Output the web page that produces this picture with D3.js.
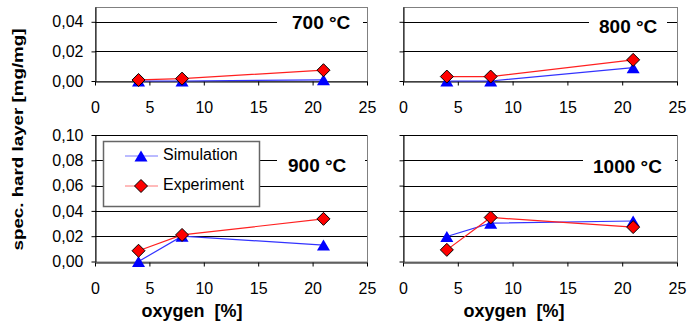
<!DOCTYPE html>
<html>
<head>
<meta charset="utf-8">
<script src="https://cdn.jsdelivr.net/npm/d3@7"></script>
<style>
  body { margin: 0; background: #fff; }
  text { font-family: "Liberation Sans", Arial, sans-serif; }
</style>
</head>
<body>
<div id="chart"></div>
<script>
// oxygen content [%] measured at each temperature
const oxygen = [4, 8, 21];
const xTicks = [0, 5, 10, 15, 20, 25];
const temperatures = ["700 °C", "800 °C", "900 °C", "1000 °C"];

// spec. hard layer [mg/mg]
const sim700 = [0, 0, 0.0008];
const exp700 = [0.0007, 0.0016, 0.0073];
const sim800 = [0, 0, 0.009];
const exp800 = [0.003, 0.003, 0.0143];
const sim900 = [0, 0.02, 0.013];
const exp900 = [0.0085, 0.021, 0.0337];
const sim1000 = [0.0198, 0.0303, 0.032];
const exp1000 = [0.0092, 0.0348, 0.0272];

const yTicksTop = [0, 0.02, 0.04];
const yTicksBottom = [0, 0.02, 0.04, 0.06, 0.08, 0.10];
const seriesNames = ["Simulation", "Experiment"];

const width = 687;
const height = 327;

const svg = d3.create("svg")
    .attr("width", width)
    .attr("height", height);

const comma = d3.formatLocale({ decimal: ",", thousands: ".", grouping: [3], currency: ["", ""] }).format(".2f");

const panels = [
    { name: temperatures[0], sim: sim700, exp: exp700, x0: 95, x1: 367, y0: 81, y1: 7, yMax: 0.05, ticks: yTicksTop, labels: true, tx: 292, ty: 24, gap: [277, 363] },
    { name: temperatures[1], sim: sim800, exp: exp800, x0: 403, x1: 677, y0: 81, y1: 7, yMax: 0.05, ticks: yTicksTop, labels: false, tx: 599, ty: 28, gap: [589, 667] },
    { name: temperatures[2], sim: sim900, exp: exp900, x0: 95, x1: 367, y0: 261.5, y1: 135, yMax: 0.10, ticks: yTicksBottom, labels: true, tx: 288, ty: 167, gap: [277, 365] },
    { name: temperatures[3], sim: sim1000, exp: exp1000, x0: 403, x1: 677, y0: 261.5, y1: 135, yMax: 0.10, ticks: yTicksBottom, labels: false, tx: 593, ty: 168, gap: [583, 675] }
];

/*
Marker shapes.
*/
const triangle = "M0,-5.5L6.5,5.5L-6.5,5.5Z";
const diamond = "M0,-6.5L6.5,0L0,6.5L-6.5,0Z";

panels.forEach(drawPanel);

// Axis titles.
svg.append("text")
    .attr("transform", "translate(19,139.5) rotate(-90)")
    .attr("text-anchor", "middle")
    .attr("dominant-baseline", "middle")
    .attr("font-size", 15)
    .attr("font-weight", "bold")
    .attr("textLength", 222)
    .attr("lengthAdjust", "spacingAndGlyphs")
    .text("spec. hard layer [mg/mg]");

[192, 514].forEach(cx => {
    svg.append("text")
        .attr("x", cx)
        .attr("y", 317)
        .attr("text-anchor", "middle")
        .attr("font-size", 18)
        .attr("font-weight", "bold")
        .attr("xml:space", "preserve")
        .style("white-space", "pre")
        .text("oxygen  [%]");
});

drawLegend();

document.getElementById("chart").appendChild(svg.node());


/*
One small chart for one temperature.
*/
function drawPanel(p) {
    const x = d3.scaleLinear().domain([0, 25]).range([p.x0, p.x1]);
    const y = d3.scaleLinear().domain([0, p.yMax]).range([p.y0, p.y1]);
    const g = svg.append("g");

    // plot area border
    g.append("rect")
        .attr("x", p.x0 + 0.5)
        .attr("y", Math.round(p.y1) + 0.5)
        .attr("width", p.x1 - p.x0)
        .attr("height", p.y0 - p.y1)
        .attr("fill", "none")
        .attr("stroke", "#808080");

    // gridlines
    g.append("g")
        .selectAll("line")
        .data(p.ticks.filter(d => d > 0))
        .join("line")
            .attr("x1", p.x0)
            .attr("x2", p.x1)
            .attr("y1", d => Math.round(y(d)) + 0.5)
            .attr("y2", d => Math.round(y(d)) + 0.5)
            .attr("stroke", "#000");

    // white box behind the temperature label
    g.append("rect")
        .attr("x", p.gap[0])
        .attr("y", p.ty - 12)
        .attr("width", p.gap[1] - p.gap[0])
        .attr("height", 24)
        .attr("fill", "#fff");

    g.append("text")
        .attr("x", p.tx)
        .attr("y", p.ty)
        .attr("dominant-baseline", "middle")
        .attr("font-size", 19)
        .attr("font-weight", "bold")
        .text(p.name);

    // y axis
    const yAxis = d3.axisLeft(y)
        .tickValues(p.ticks)
        .tickSize(4)
        .tickSizeOuter(0)
        .tickPadding(8)
        .tickFormat(p.labels ? comma : "");
    g.append("g")
        .attr("transform", `translate(${Math.round(p.x0) + 0.5},0)`)
        .call(yAxis)
        .call(a => a.selectAll("text").attr("font-size", 16).attr("fill", "#000"));

    // x axis
    const xAxis = d3.axisBottom(x)
        .tickValues(xTicks)
        .tickSize(4)
        .tickSizeOuter(0)
        .tickPadding(16)
        .tickFormat(d3.format("d"));
    g.append("g")
        .attr("transform", `translate(0,${Math.round(p.y0) + 0.5})`)
        .call(xAxis)
        .call(a => a.selectAll("text").attr("font-size", 16).attr("fill", "#000"));

    g.selectAll(".domain, .tick line").attr("stroke", "#000");

    const line = d3.line()
        .x((d, i) => x(oxygen[i]))
        .y(d => y(d));

    g.append("path")
        .attr("d", line(p.sim))
        .attr("fill", "none")
        .attr("stroke", "#3333ff")
        .attr("stroke-width", 1.2);

    g.append("path")
        .attr("d", line(p.exp))
        .attr("fill", "none")
        .attr("stroke", "#ff2020")
        .attr("stroke-width", 1.2);

    g.append("g")
        .selectAll("path")
        .data(p.sim)
        .join("path")
            .attr("d", triangle)
            .attr("transform", (d, i) => `translate(${x(oxygen[i])},${y(d)})`)
            .attr("fill", "#0000ff");

    g.append("g")
        .selectAll("path")
        .data(p.exp)
        .join("path")
            .attr("d", diamond)
            .attr("transform", (d, i) => `translate(${x(oxygen[i])},${y(d)})`)
            .attr("fill", "#ff0000")
            .attr("stroke", "#000")
            .attr("stroke-width", 1);
}


/*
Legend inside the 900 °C chart.
*/
function drawLegend() {
    const lg = svg.append("g");
    lg.append("rect")
        .attr("x", 103.5)
        .attr("y", 141.5)
        .attr("width", 156)
        .attr("height", 65)
        .attr("fill", "#fff")
        .attr("stroke", "#666")
        .attr("stroke-width", 1.5);

    const rows = [
        { name: seriesNames[0], y: 156, color: "#7777ff", marker: triangle, fill: "#0000ff", stroke: "none" },
        { name: seriesNames[1], y: 186, color: "#ff7777", marker: diamond, fill: "#ff0000", stroke: "#000" }
    ];

    const row = lg.selectAll("g")
        .data(rows)
        .join("g")
            .attr("transform", d => `translate(0,${d.y})`);

    row.append("line")
        .attr("x1", 125)
        .attr("x2", 158)
        .attr("stroke", d => d.color);

    row.append("path")
        .attr("d", d => d.marker)
        .attr("transform", "translate(141,0)")
        .attr("fill", d => d.fill)
        .attr("stroke", d => d.stroke);

    row.append("text")
        .attr("x", 163)
        .attr("dominant-baseline", "middle")
        .attr("font-size", 16)
        .text(d => d.name);
}
</script>
</body>
</html>
